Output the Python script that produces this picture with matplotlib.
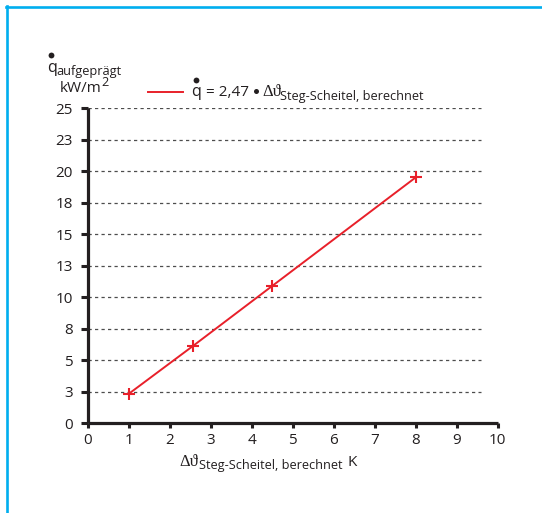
import matplotlib
matplotlib.use("Agg")
import matplotlib.pyplot as plt
from matplotlib.lines import Line2D

# data
x_vals = [1.0, 2.57, 4.5, 8.0]
y_vals = [2.35, 6.15, 10.9, 19.5]
y_ticks = [0, 2.5, 5, 7.5, 10, 12.5, 15, 17.5, 20, 22.5, 25]
y_tick_labels = ['0', '3', '5', '8', '10', '13', '15', '18', '20', '23', '25']
x_ticks = list(range(0, 11))
x_tick_labels = [str(v) for v in x_ticks]

W, H = 542, 513
SANS = ['Open Sans', 'DejaVu Sans']
SERIF = ['Liberation Serif', 'DejaVu Serif']
TXT = '#231f20'
RED = '#e8202a'
plt.rcParams['font.family'] = SANS

fig = plt.figure(figsize=(W / 100, H / 100), dpi=100)
fig.patch.set_facecolor('white')

def fx(x):
    return x / W

def fy(y):
    return 1 - y / H

def dot(x, y, size):
    fig.add_artist(Line2D([fx(x)], [fy(y)], marker='o', markersize=size,
                          color=TXT, markeredgewidth=0, linestyle='none'))

# cyan frame (top and left)
fig.add_artist(Line2D([fx(6), fx(542)], [fy(7.3), fy(7.3)], color='#00aeef', lw=1.9))
fig.add_artist(Line2D([fx(7.3), fx(7.3)], [fy(6), fy(513)], color='#00aeef', lw=1.9))

ax = fig.add_axes([fx(88), fy(423.3), fx(497.7) - fx(88), fy(108) - fy(423.3)])
ax.set_xlim(0, 10)
ax.set_ylim(0, 25)
for s in ['top', 'right']:
    ax.spines[s].set_visible(False)
for s in ['left', 'bottom']:
    ax.spines[s].set_linewidth(2.3)
    ax.spines[s].set_color(TXT)
    ax.spines[s].set_capstyle('butt')

ax.set_yticks(y_ticks)
ax.set_yticklabels(y_tick_labels)
ax.set_xticks(x_ticks)
ax.set_xticklabels(x_tick_labels)
ax.tick_params(axis='y', direction='out', length=4.8, width=2.2, color=TXT,
               labelsize=11, labelcolor=TXT, pad=6)
ax.tick_params(axis='x', direction='out', length=3.8, width=2.2, color=TXT,
               labelsize=11, labelcolor=TXT, pad=3.5)

for yv in y_ticks[1:]:
    ax.axhline(yv, xmin=0, xmax=0.96, color='#4d4d4d', lw=0.9,
               linestyle=(0, (2.6, 2.6)), zorder=1)

ax.plot(x_vals, y_vals, color=RED, lw=1.4, marker='+', markersize=8,
        markeredgewidth=1.5, zorder=3, clip_on=False)

SUB = 9.2
# y-axis label
fig.text(fx(47.5), fy(71.5), 'q', fontsize=11.5, color=TXT, ha='left', va='baseline')
dot(51, 54.5, 4.2)
fig.text(fx(56), fy(75), 'aufgeprägt', fontsize=SUB, color=TXT, ha='left', va='baseline')
fig.text(fx(60), fy(92), 'kW/m', fontsize=11, color=TXT, ha='left', va='baseline')
fig.text(fx(101), fy(86.5), '2', fontsize=SUB, color=TXT, ha='left', va='baseline')

# legend
fig.add_artist(Line2D([fx(148), fx(183)], [fy(91.7), fy(91.7)], color=RED, lw=1.4))
fig.text(fx(191.5), fy(95.5), 'q', fontsize=11.5, color=TXT, ha='left', va='baseline')
dot(196, 79.5, 4.2)
fig.text(fx(206), fy(95.5), '= 2,47', fontsize=11, color=TXT, ha='left', va='baseline')
dot(255.7, 90.7, 3.6)
fig.text(fx(262.5), fy(95.5), 'Δϑ', fontsize=12, color=TXT, ha='left', va='baseline',
         family=SERIF)
fig.text(fx(280.5), fy(100), 'Steg-Scheitel, berechnet', fontsize=SUB, color=TXT,
         ha='left', va='baseline')

# x-axis label
fig.text(fx(179), fy(465.5), 'Δϑ', fontsize=12, color=TXT, ha='left', va='baseline',
         family=SERIF)
fig.text(fx(199), fy(469.5), 'Steg-Scheitel, berechnet', fontsize=SUB, color=TXT,
         ha='left', va='baseline')
fig.text(fx(347.5), fy(465.5), 'K', fontsize=11, color=TXT, ha='left', va='baseline')

fig.savefig('out.png', dpi=100, facecolor='white')
